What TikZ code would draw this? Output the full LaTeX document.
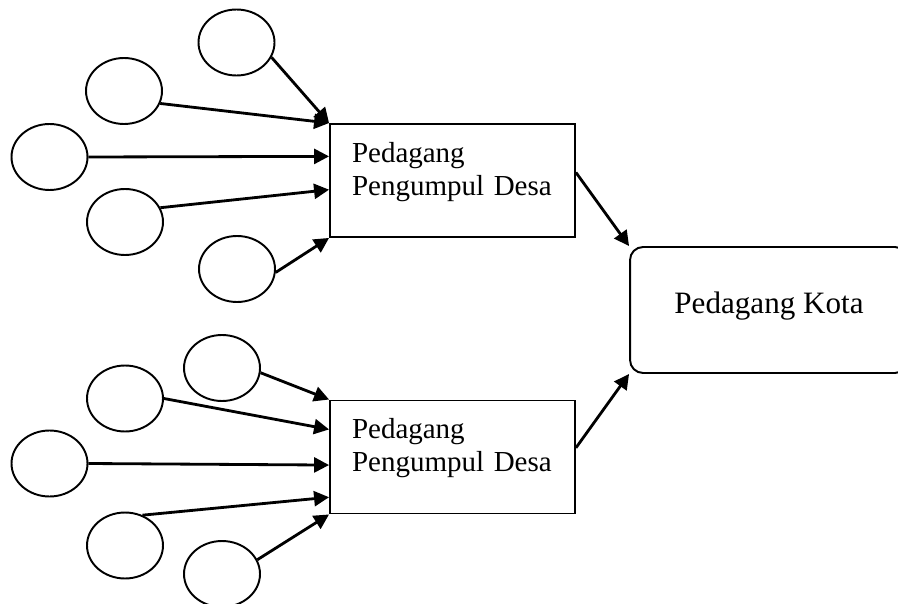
\documentclass[tikz,border=0pt]{standalone}
\usepackage{fontspec}
\setmainfont{Liberation Serif}
\usetikzlibrary{arrows.meta,shapes.geometric,calc}
\tikzset{
  src/.style={draw, ellipse, line width=1.1pt, minimum width=1.52cm, minimum height=1.32cm, inner sep=0pt},
  box/.style={draw, line width=1.1pt, align=left, text width=4.02cm, inner xsep=0.44cm, minimum height=2.26cm, text height=0.4cm, text depth=1.14cm, font=\fontsize{16.5}{18.8}\selectfont},
  kotabox/.style={draw, line width=1.1pt, rounded corners=0.26cm, minimum width=5.56cm, minimum height=2.52cm, text height=0.43cm, text depth=0.31cm, font=\fontsize{17.7}{20}\selectfont},
  arrow/.style={-{Triangle[length=0.3cm, width=0.3cm]}, line width=1.6pt}
}

\begin{document}
\begin{tikzpicture}[x=0.02cm, y=-0.02cm]
  \useasboundingbox (0,0) rectangle (898,604);
  % pedagang
  \node[box] (ppd1) at (452.5,180.5) {Pedagang\\Pengumpul Desa};
  \node[box] (ppd2) at (452.5,457) {Pedagang\\Pengumpul Desa};
  \node[kotabox] (kota) at (769,310) {Pedagang Kota};
  % sumber, kelompok atas
  \node[src] (a1) at (236.5,42.5) {};
  \node[src] (a2) at (124,91) {};
  \node[src] (a3) at (49.5,157) {};
  \node[src] (a4) at (125,222) {};
  \node[src] (a5) at (237,269) {};
  % sumber, kelompok bawah
  \node[src] (b1) at (222,368) {};
  \node[src] (b2) at (125,398.5) {};
  \node[src] (b3) at (49.5,463.5) {};
  \node[src] (b4) at (125,545.5) {};
  \node[src] (b5) at (222,574) {};
  \draw[arrow] (a1.-23) -- (ppd1.north west);
  \draw[arrow] (a2.-19) -- (ppd1.north west);
  \draw[arrow] (a3.east) -- ($(ppd1.north west)!0.29!(ppd1.south west)$);
  \draw[arrow] (a4.22) -- ($(ppd1.north west)!0.58!(ppd1.south west)$);
  \draw[arrow] (a5.-5) -- (ppd1.south west);
  \draw[arrow] (b1.-7) -- (ppd2.north west);
  \draw[arrow] (b2.east) -- ($(ppd2.north west)!0.26!(ppd2.south west)$);
  \draw[arrow] (b3.east) -- ($(ppd2.north west)!0.57!(ppd2.south west)$);
  \draw[arrow] (b4.60) -- ($(ppd2.north west)!0.85!(ppd2.south west)$);
  \draw[arrow] (b5.22) -- (ppd2.south west);
  \draw[arrow] ($(ppd1.north east)!0.43!(ppd1.south east)$) -- (kota.north west);
  \draw[arrow] ($(ppd2.north east)!0.42!(ppd2.south east)$) -- (kota.south west);
\end{tikzpicture}
\end{document}
